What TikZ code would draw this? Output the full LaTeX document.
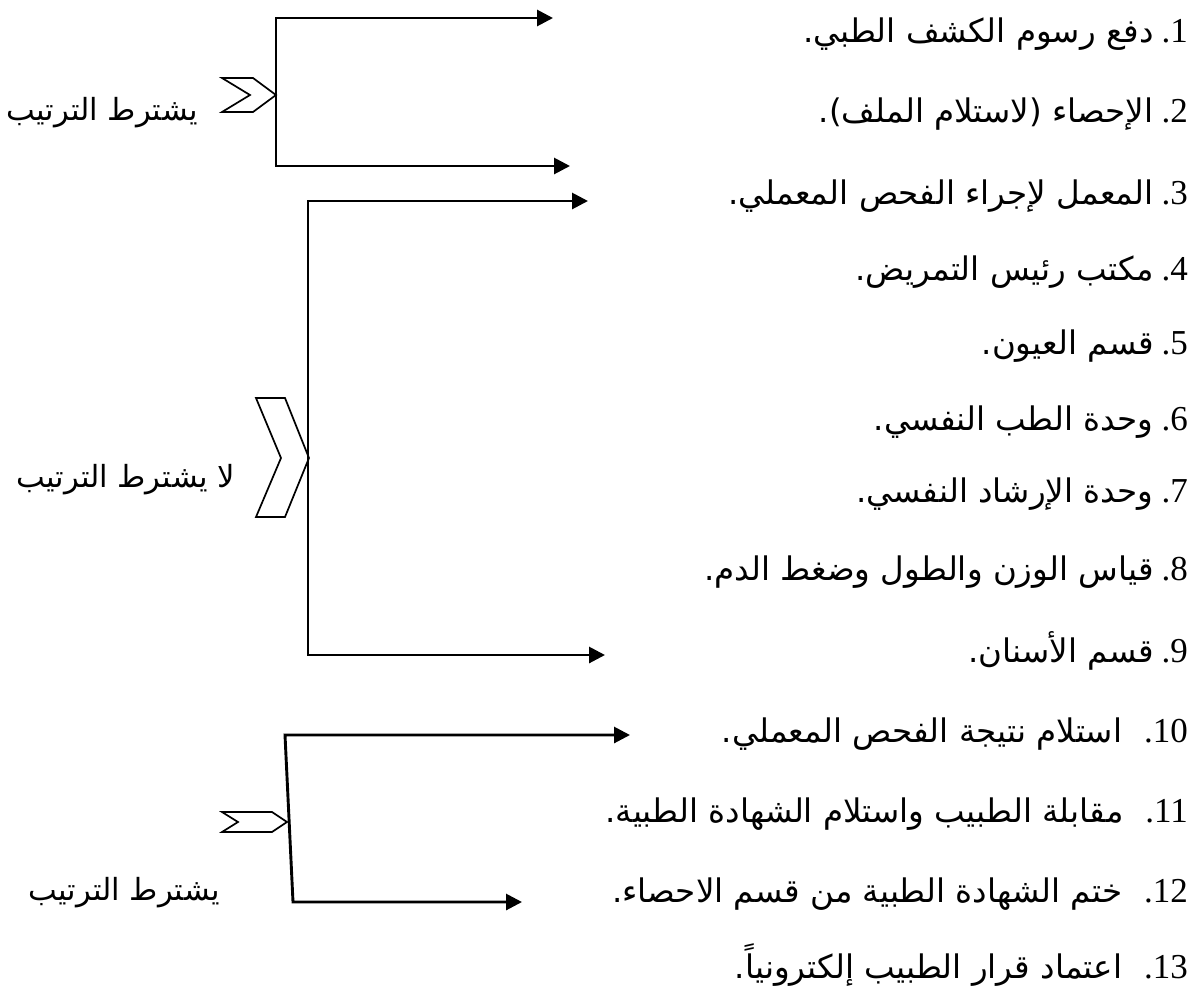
\documentclass[tikz,border=0pt]{standalone}
\usepackage{fontspec}
\setmainfont{Liberation Serif}
\newfontfamily\arabicfont[Script=Arabic]{DejaVu Sans}
\TeXXeTstate=1
\usetikzlibrary{arrows.meta}
\newcommand{\ar}[1]{{\arabicfont\fontsize{32.5}{38}\selectfont\beginR #1\endR}}
\tikzset{
  stepline/.style={anchor=base east, inner sep=0pt, font=\fontsize{35}{42}\selectfont},
  sidelabel/.style={anchor=east, inner sep=0pt, font=\arabicfont\fontsize{30.5}{36}\selectfont},
  brk/.style={line width=2.9pt, line join=miter,
    {Triangle[length=16pt,width=16pt]}-{Triangle[length=16pt,width=16pt]}},
  chev/.style={line width=1.7pt, line join=miter},
}
\begin{document}
\begin{tikzpicture}[x=1pt,y=-1pt]
\useasboundingbox (0,0) rectangle (1199,994);
% steps
\node[stepline] (s1) at (1188,42) {\ar{دفع رسوم الكشف الطبي.}\hspace{8pt}.1};
\node[stepline] (s2) at (1188,122) {\ar{الإحصاء (لاستلام الملف).}\hspace{8pt}.2};
\node[stepline] (s3) at (1188,204) {\ar{المعمل لإجراء الفحص المعملي.}\hspace{8pt}.3};
\node[stepline] (s4) at (1188,280) {\ar{مكتب رئيس التمريض.}\hspace{8pt}.4};
\node[stepline] (s5) at (1188,354) {\ar{قسم العيون.}\hspace{8pt}.5};
\node[stepline] (s6) at (1188,430) {\ar{وحدة الطب النفسي.}\hspace{8pt}.6};
\node[stepline] (s7) at (1188,502) {\ar{وحدة الإرشاد النفسي.}\hspace{8pt}.7};
\node[stepline] (s8) at (1188,580) {\ar{قياس الوزن والطول وضغط الدم.}\hspace{8pt}.8};
\node[stepline] (s9) at (1188,662) {\ar{قسم الأسنان.}\hspace{8pt}.9};
\node[stepline] (s10) at (1188,742) {\ar{استلام نتيجة الفحص المعملي.}\hspace{22pt}.10};
\node[stepline] (s11) at (1188,822) {\ar{مقابلة الطبيب واستلام الشهادة الطبية.}\hspace{22pt}.11};
\node[stepline] (s12) at (1188,902) {\ar{ختم الشهادة الطبية من قسم الاحصاء.}\hspace{22pt}.12};
\node[stepline] (s13) at (1188,978) {\ar{اعتماد قرار الطبيب إلكترونياً.}\hspace{22pt}.13};
% side labels
\node[sidelabel] (lab1) at (198,113) {\beginR يشترط الترتيب\endR};
\node[sidelabel] (lab2) at (235,480) {\beginR لا يشترط الترتيب\endR};
\node[sidelabel] (lab3) at (220,893) {\beginR يشترط الترتيب\endR};
% chevrons
\draw[chev] (222,78) -- (253,78) -- (276,95) -- (253,112) -- (222,112) -- (250,95) -- cycle;
\draw[chev] (256,398) -- (285,398) -- (309,458) -- (285,517) -- (256,517) -- (281,458) -- cycle;
\draw[chev] (222,812) -- (272,812) -- (287,822) -- (272,832) -- (222,832) -- (238,822) -- cycle;
% brackets
\coordinate (b1a) at (276,18);
\coordinate (b1b) at (276,166);
\coordinate (e1a) at (553,18);
\coordinate (e1b) at (570,166);
\draw[brk] (e1a) -- (b1a) -- (b1b) -- (e1b);
\coordinate (b2a) at (308,201);
\coordinate (b2b) at (308,655);
\coordinate (e2a) at (588,201);
\coordinate (e2b) at (605,655);
\draw[brk] (e2a) -- (b2a) -- (b2b) -- (e2b);
\coordinate (b3a) at (285,735);
\coordinate (b3b) at (293,902);
\coordinate (e3a) at (630,735);
\coordinate (e3b) at (522,902);
\draw[brk] (e3a) -- (b3a) -- (b3b) -- (e3b);
\end{tikzpicture}
\end{document}
